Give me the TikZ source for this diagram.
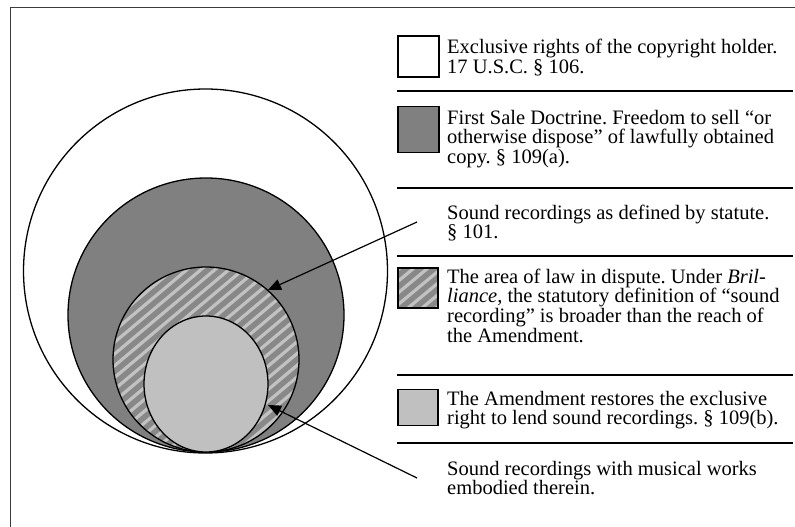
\documentclass[tikz,border=0pt]{standalone}
\usepackage{fontspec}
\setmainfont{Liberation Serif}
\usetikzlibrary{arrows.meta}
\definecolor{darkfill}{RGB}{128,128,128}
\definecolor{lightfill}{RGB}{192,192,192}
\definecolor{hatchbg}{RGB}{136,136,136}
\definecolor{stripecol}{RGB}{194,194,194}
\definecolor{framecol}{RGB}{60,60,60}
\newcommand{\legpar}[1]{\parbox[t]{350pt}{\fontsize{20.5}{19.7}\selectfont\frenchspacing\raggedright #1\par}}
\begin{document}
\begin{tikzpicture}[x=1pt,y=-1pt,
  circ/.style={draw=black, line width=1.3pt},
  legbox/.style={draw=black, line width=1.5pt},
  sepline/.style={draw=black, line width=1.6pt},
  stripe/.style={draw=stripecol, line width=3.2pt},
  legtext/.style={anchor=base west, inner sep=0pt},
  arr/.style={draw=black, line width=1.2pt, -{Triangle[length=13pt,width=11pt]}}]
\useasboundingbox (0,0) rectangle (795,527);
\fill[white] (0,0) rectangle (795,527);
% frame
\draw[framecol, line width=1pt] (10.5,7.5) rectangle (820,560);
% circles
\draw[circ, fill=white] (205.5,271) circle[radius=182];
\draw[circ, fill=darkfill] (206,315) ellipse[x radius=138, y radius=137];
\begin{scope}
  \clip (206,359.5) ellipse[x radius=93, y radius=92.5];
  \fill[hatchbg] (100,260) rectangle (310,460);
  \foreach \k in {-20,...,25} {
    \draw[stripe] ({206+\k*14-250},{569.5}) -- ++(500,-420);
  }
\end{scope}
\draw[circ] (206,359.5) ellipse[x radius=93, y radius=92.5];
\draw[circ, fill=lightfill] (206,384) ellipse[x radius=62, y radius=68];
% legend boxes
\node[legbox, fill=white, minimum width=41pt, minimum height=41pt, inner sep=0pt] (b1) at (418.5,56.5) {};
\node[legbox, fill=darkfill, minimum width=41pt, minimum height=46pt, inner sep=0pt] (b2) at (418.5,129.5) {};
\begin{scope}
  \clip (398,268) rectangle (438,308);
  \fill[hatchbg] (398,268) rectangle (438,308);
  \foreach \k in {-6,...,6} {
    \draw[stripe] ({418+\k*14-60},{338}) -- ++(120,-100);
  }
\end{scope}
\node[legbox, minimum width=40pt, minimum height=40pt, inner sep=0pt] (b4) at (418,288) {};
\node[legbox, fill=lightfill, minimum width=40pt, minimum height=36pt, inner sep=0pt] (b5) at (418,407.5) {};
% separators
\coordinate (s1a) at (397,91);  \coordinate (s1b) at (793,91);
\coordinate (s2a) at (397,188); \coordinate (s2b) at (793,188);
\coordinate (s3a) at (397,256); \coordinate (s3b) at (793,256);
\coordinate (s4a) at (397,375); \coordinate (s4b) at (793,375);
\coordinate (s5a) at (397,443); \coordinate (s5b) at (793,443);
\draw[sepline] (s1a) -- (s1b);
\draw[sepline] (s2a) -- (s2b);
\draw[sepline] (s3a) -- (s3b);
\draw[sepline] (s4a) -- (s4b);
\draw[sepline] (s5a) -- (s5b);
% texts
\node[legtext] (t1) at (447,54) {\legpar{Exclusive rights of the copyright holder.\\17 U.S.C. § 106.}};
\node[legtext] (t2) at (447,124) {\legpar{First Sale Doctrine. Freedom to sell “or\\otherwise dispose” of lawfully obtained\\copy. § 109(a).}};
\node[legtext] (t3) at (447,219) {\legpar{Sound recordings as defined by statute.\\§ 101.}};
\node[legtext] (t4) at (447,283) {\legpar{The area of law in dispute. Under \textit{Bril-}\\\textit{liance}, the statutory definition of “sound\\recording” is broader than the reach of\\the Amendment.}};
\node[legtext] (t5) at (447,405) {\legpar{The Amendment restores the exclusive\\right to lend sound recordings. § 109(b).}};
\node[legtext] (t6) at (447,475) {\legpar{Sound recordings with musical works\\embodied therein.}};
% arrows
\coordinate (a1s) at (417,222);
\coordinate (a1e) at (268,290);
\coordinate (a2s) at (417,478);
\coordinate (a2e) at (268,405);
\draw[arr] (a1s) -- (a1e);
\draw[arr] (a2s) -- (a2e);
\end{tikzpicture}
\end{document}
